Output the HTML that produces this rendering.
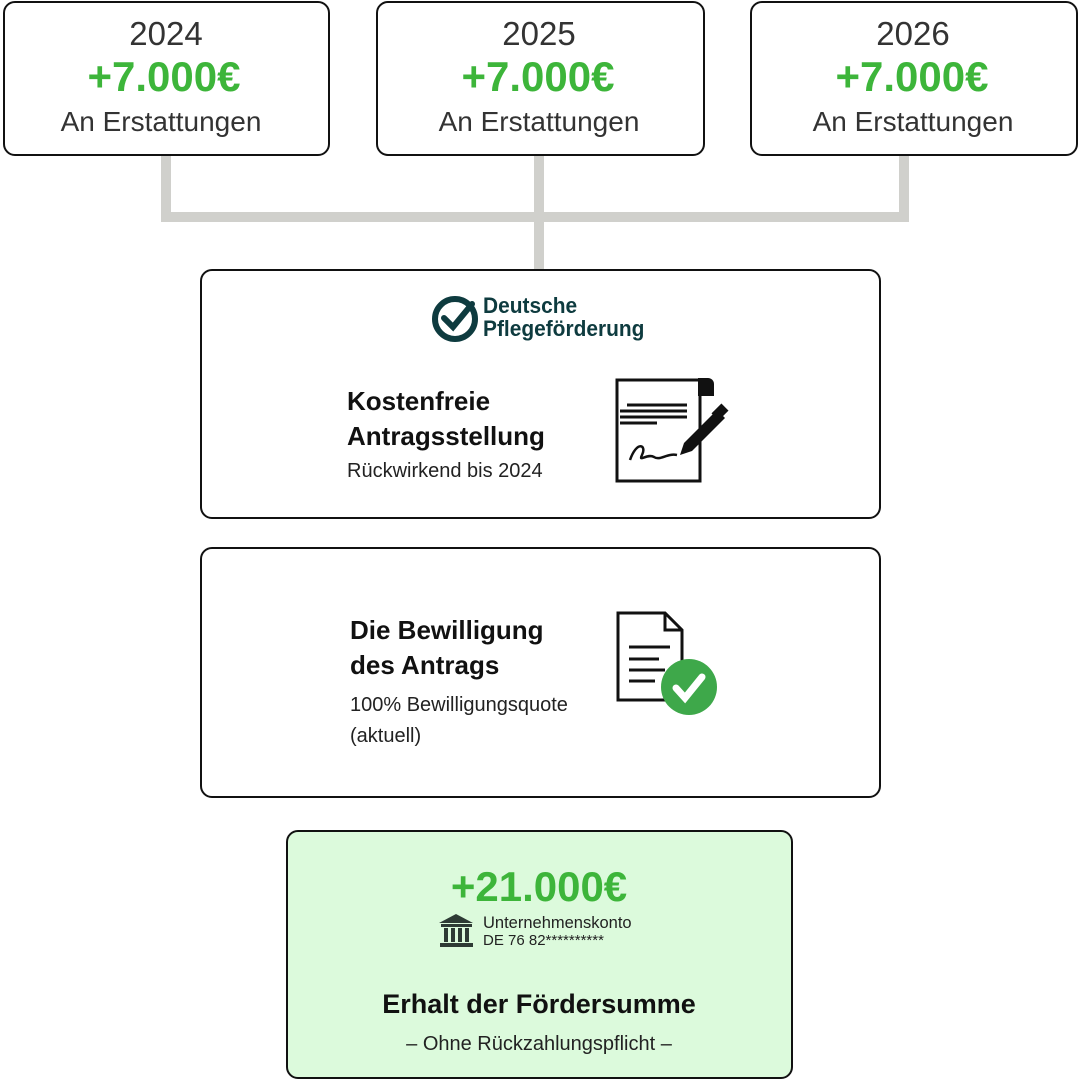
<!DOCTYPE html>
<html><head><meta charset="utf-8"><style>
body{margin:0;width:1080px;height:1080px;background:#fff;position:relative;overflow:hidden;font-family:"Liberation Sans",sans-serif;}
.b{position:absolute;border:2px solid #111;border-radius:12px;box-sizing:border-box;background:#fff}
.t{position:absolute;white-space:nowrap;line-height:1}
.c{transform:translateX(-50%)}
.g{color:#3db53a;font-weight:bold}
.l{position:absolute;background:#d0d0cc}
</style></head><body>
<div class="l" style="left:161px;top:155px;width:10px;height:67px"></div>
<div class="l" style="left:534px;top:155px;width:10px;height:114px"></div>
<div class="l" style="left:899px;top:155px;width:10px;height:67px"></div>
<div class="l" style="left:161px;top:212px;width:748px;height:10px"></div>

<div class="b" style="left:3px;top:1px;width:327px;height:155px"></div>
<div class="b" style="left:376px;top:1px;width:329px;height:155px"></div>
<div class="b" style="left:750px;top:1px;width:328px;height:155px"></div>
<div class="t c" style="left:166px;top:17px;font-size:33px;color:#333">2024</div>
<div class="t c g" style="left:164px;top:56px;font-size:42px">+7.000€</div>
<div class="t c" style="left:161px;top:108px;font-size:28px;color:#333">An Erstattungen</div>
<div class="t c" style="left:539px;top:17px;font-size:33px;color:#333">2025</div>
<div class="t c g" style="left:538px;top:56px;font-size:42px">+7.000€</div>
<div class="t c" style="left:539px;top:108px;font-size:28px;color:#333">An Erstattungen</div>
<div class="t c" style="left:913px;top:17px;font-size:33px;color:#333">2026</div>
<div class="t c g" style="left:912px;top:56px;font-size:42px">+7.000€</div>
<div class="t c" style="left:913px;top:108px;font-size:28px;color:#333">An Erstattungen</div>

<div class="b" style="left:200px;top:269px;width:681px;height:250px"></div>
<svg style="position:absolute;left:430px;top:294px" width="52" height="52"><circle cx="25" cy="25" r="20" fill="none" stroke="#0e3b3f" stroke-width="6"/><path d="M14 24 L23 33 L42 10" fill="none" stroke="#0e3b3f" stroke-width="6" stroke-linecap="round"/></svg>
<div class="t" style="left:483px;top:295px;font-size:22px;font-weight:bold;color:#0e3b3f;transform:scaleX(.95);transform-origin:left">Deutsche</div>
<div class="t" style="left:483px;top:318px;font-size:22px;font-weight:bold;color:#0e3b3f;transform:scaleX(.95);transform-origin:left">Pflegeförderung</div>
<div class="t" style="left:347px;top:388px;font-size:26px;font-weight:bold;color:#111">Kostenfreie</div>
<div class="t" style="left:347px;top:423px;font-size:26px;font-weight:bold;color:#111">Antragsstellung</div>
<div class="t" style="left:347px;top:461px;font-size:20px;color:#222">Rückwirkend bis 2024</div>
<svg style="position:absolute;left:612px;top:375px" width="122" height="112">
<path d="M5 5 H88 V106 H5 Z" fill="#fff" stroke="#111" stroke-width="3"/>
<path d="M86 3 h10 a6 6 0 0 1 6 6 v12 h-16z" fill="#111"/>
<g stroke="#111" stroke-width="3"><line x1="15" y1="30" x2="75" y2="30"/><line x1="8" y1="36" x2="75" y2="36"/><line x1="8" y1="42" x2="75" y2="42"/><line x1="8" y1="48" x2="45" y2="48"/></g>
<path d="M18 85 C25 65 35 70 30 80 C26 88 35 78 42 82 C48 86 55 78 65 80" fill="none" stroke="#111" stroke-width="2.5"/>
<path d="M68 80 L72 68 L105 35 L113 43 L80 76 Z" fill="#111"/>
<rect x="103" y="30" width="10" height="14" transform="rotate(45 108 37)" fill="#111"/>
</svg>

<div class="b" style="left:200px;top:547px;width:681px;height:251px"></div>
<div class="t" style="left:350px;top:617px;font-size:26px;font-weight:bold;color:#111">Die Bewilligung</div>
<div class="t" style="left:350px;top:652px;font-size:26px;font-weight:bold;color:#111">des Antrags</div>
<div class="t" style="left:350px;top:695px;font-size:20px;color:#222">100% Bewilligungsquote</div>
<div class="t" style="left:350px;top:726px;font-size:20px;color:#222">(aktuell)</div>
<svg style="position:absolute;left:615px;top:610px" width="110" height="110">
<path d="M3 3 H50 L67 20 V90 H3 Z" fill="#fff" stroke="#111" stroke-width="3"/>
<path d="M50 3 V20 H67" fill="none" stroke="#111" stroke-width="3"/>
<g stroke="#111" stroke-width="3"><line x1="14" y1="37" x2="55" y2="37"/><line x1="14" y1="49" x2="44" y2="49"/><line x1="14" y1="60" x2="50" y2="60"/><line x1="14" y1="71" x2="40" y2="71"/></g>
<circle cx="74" cy="77" r="28" fill="#3ea84a"/>
<path d="M61 78 L70 88 L87 67" fill="none" stroke="#fff" stroke-width="7" stroke-linecap="round"/>
</svg>

<div class="b" style="left:286px;top:830px;width:507px;height:249px;background:#dcfadc"></div>
<div class="t c g" style="left:539px;top:866px;font-size:42px">+21.000€</div>
<svg style="position:absolute;left:438px;top:913px" width="38" height="36"><path d="M1 10 L18 1 L35 10 Z" fill="#2d3a34"/><rect x="3" y="11" width="31" height="3" fill="#2d3a34"/><g fill="#2d3a34"><rect x="6" y="15" width="4" height="14"/><rect x="13" y="15" width="4" height="14"/><rect x="20" y="15" width="4" height="14"/><rect x="27" y="15" width="4" height="14"/></g><rect x="2" y="30" width="33" height="4" fill="#2d3a34"/></svg>
<div class="t" style="left:483px;top:915px;font-size:16.5px;color:#222">Unternehmenskonto</div>
<div class="t" style="left:483px;top:933px;font-size:15px;color:#222">DE 76 82**********</div>
<div class="t c" style="left:539px;top:991px;font-size:27px;font-weight:bold;color:#111">Erhalt der Fördersumme</div>
<div class="t c" style="left:539px;top:1034px;font-size:20px;color:#222">– Ohne Rückzahlungspflicht –</div>
</body></html>
